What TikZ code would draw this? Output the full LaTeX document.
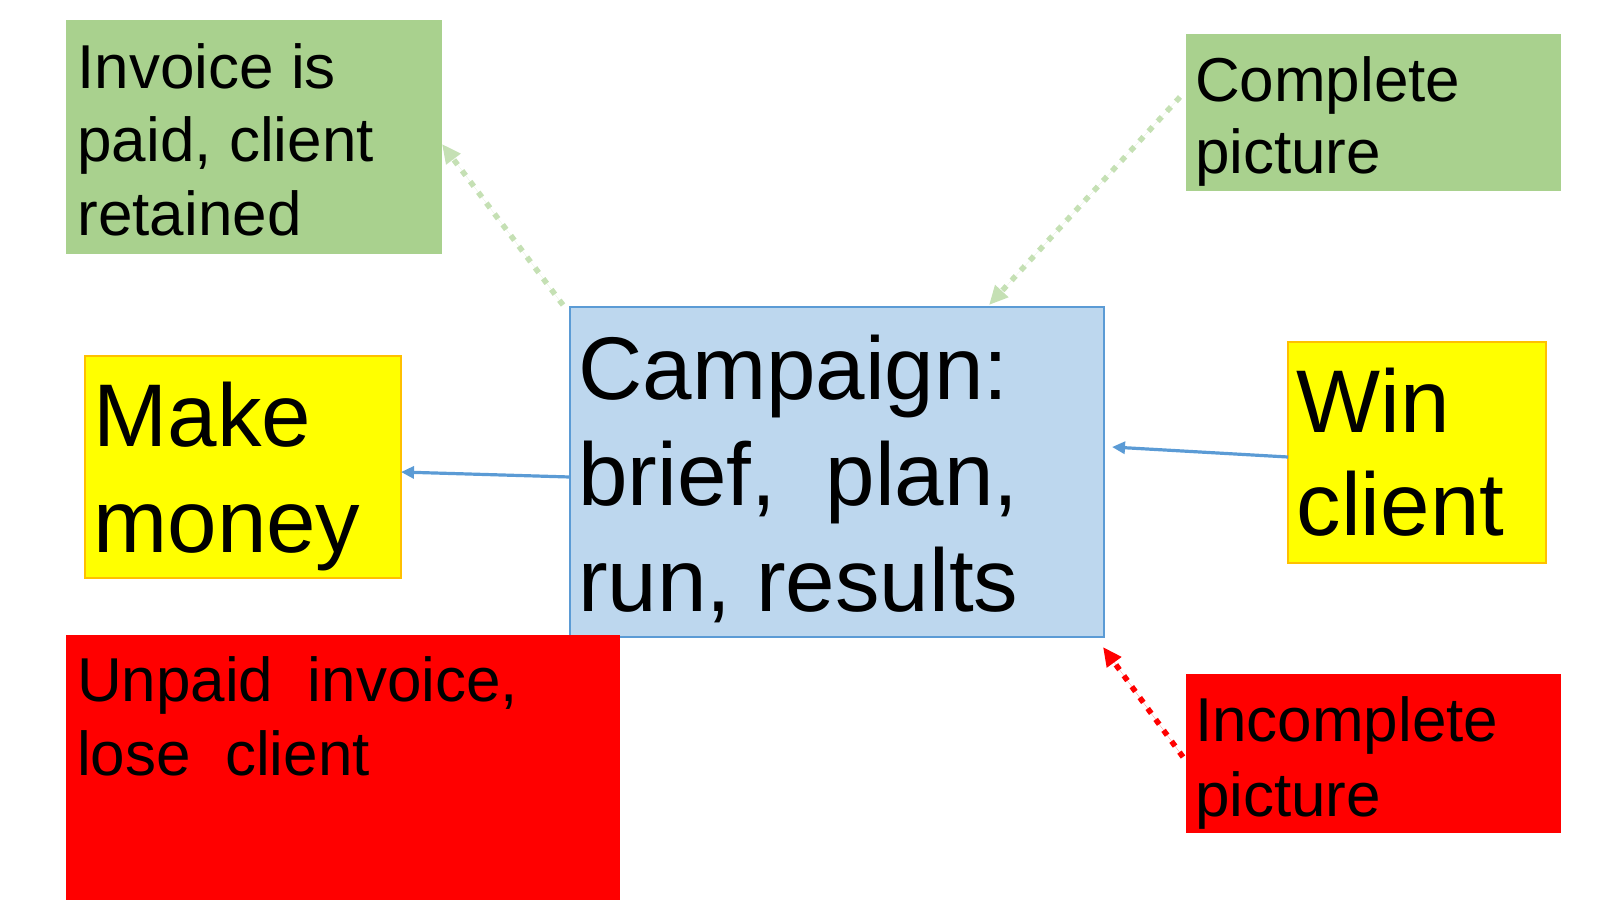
\documentclass[tikz,border=0pt]{standalone}
\usepackage{fontspec}
\setmainfont{Liberation Sans}
\usetikzlibrary{arrows.meta,calc}
\definecolor{boxgreen}{HTML}{A9D18E}
\definecolor{arrgreen}{HTML}{C5E0B4}
\definecolor{boxblue}{HTML}{BDD7EE}
\definecolor{edgeblue}{HTML}{5B9BD5}
\definecolor{boxyellow}{HTML}{FFFF00}
\definecolor{edgeyellow}{HTML}{FFC000}
\definecolor{boxred}{HTML}{FF0000}
\tikzset{
  panel/.style={rectangle, inner sep=0pt, outer sep=0pt, anchor=north west},
  txt/.style={inner sep=0pt, outer sep=0pt, anchor=north west, align=left, text=black},
  smalltxt/.style={txt, font=\fontsize{62}{#1}\selectfont},
  bigtxt/.style={txt, font=\fontsize{89}{#1}\selectfont},
  dotarrow/.style={line width=5.5pt, dash pattern=on 6pt off 7.5pt, -{Triangle[length=19pt,width=17pt]}},
  solidarrow/.style={draw=edgeblue, line width=3.2pt, -{Triangle[length=13pt,width=12pt]}}
}
\begin{document}
\begin{tikzpicture}[x=1pt,y=-1pt]
\useasboundingbox (0,0) rectangle (1600,900);
% boxes
\node[panel, fill=boxgreen, minimum width=376pt, minimum height=234pt] (inv) at (66,20) {};
\node[panel, fill=boxgreen, minimum width=375pt, minimum height=157pt] (comp) at (1186,34) {};
\node[panel, fill=boxblue, draw=edgeblue, line width=1.8pt, minimum width=534pt, minimum height=330pt] (camp) at (570,307) {};
\node[panel, fill=boxyellow, draw=edgeyellow, line width=1.5pt, minimum width=316pt, minimum height=222pt] (money) at (85,356) {};
\node[panel, fill=boxyellow, draw=edgeyellow, line width=1.5pt, minimum width=258pt, minimum height=221pt] (win) at (1288,342) {};
\node[panel, fill=boxred, minimum width=375pt, minimum height=159pt] (inc) at (1186,674) {};
\node[panel, fill=boxred, minimum width=554pt, minimum height=265pt] (unp) at (66,635) {};
% texts
\node[smalltxt=73.5] (invt) at ($(inv.north west)+(11.5,18)$) {\rule{0pt}{50pt}Invoice is\\paid, client\\retained};
\node[smalltxt=72] (compt) at ($(comp.north west)+(9,17.7)$) {\rule{0pt}{50pt}Complete\\picture};
\node[bigtxt=106] (campt) at ($(camp.north west)+(8.3,20.3)$) {\rule{0pt}{72pt}Campaign:\\brief,\ \ plan,\\run, results};
\node[bigtxt=106] (moneyt) at ($(money.north west)+(8.4,18.7)$) {\rule{0pt}{72pt}Make\\money};
\node[bigtxt=102.5] (wint) at ($(win.north west)+(8.6,18.7)$) {\rule{0pt}{72pt}Win\\client};
\node[smalltxt=75] (inct) at ($(inc.north west)+(9,17.7)$) {\rule{0pt}{50pt}Incomplete\\picture};
\node[smalltxt=74] (unpt) at ($(unp.north west)+(11,16)$) {\rule{0pt}{50pt}Unpaid\ \ invoice,\\lose\ \ client};
% connectors
\draw[solidarrow] ($(camp.west)+(0,5)$) -- ($(money.east)+(0,5)$);
\draw[solidarrow] ($(win.west)+(0,4.5)$) -- ($(camp.east)+(8,-25)$);
\draw[dotarrow, draw=arrgreen, fill=arrgreen] ($(camp.north west)+(-7,-2)$) -- ($(inv.east)+(0,7)$);
\draw[dotarrow, draw=arrgreen, fill=arrgreen] ($(comp.north west)+(-6,63)$) -- ($(camp.north west)+(419,-2)$);
\draw[dotarrow, draw=boxred, fill=boxred] ($(inc.north west)+(-3,83)$) -- ($(camp.south east)+(-1,10)$);
\end{tikzpicture}
\end{document}
